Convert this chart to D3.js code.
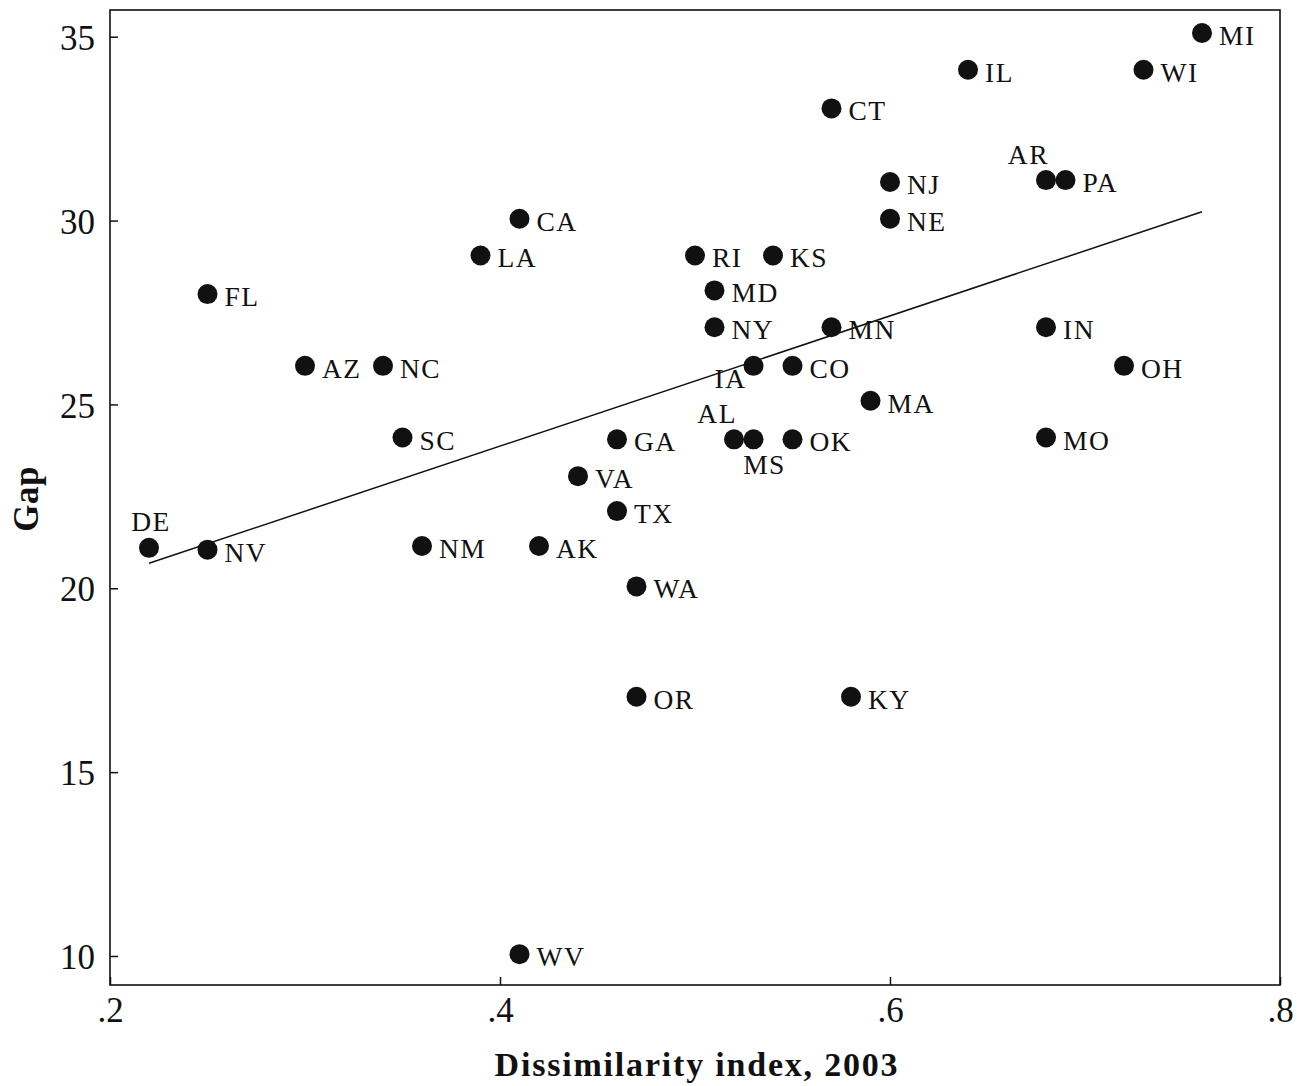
<!DOCTYPE html>
<html>
<head>
<meta charset="utf-8">
<script src="https://cdn.jsdelivr.net/npm/d3@7"></script>
<style>
  html, body { margin: 0; padding: 0; background: #fff; }
  svg { display: block; }
  text { font-family: "Liberation Serif", "DejaVu Serif", serif; fill: #111; }
</style>
</head>
<body>
<svg id="chart" width="1306" height="1086"></svg>
<script>
// ---- data ----
const states = ["MI","WI","IL","CT","NJ","NE","AR","PA","IN","OH","MO","RI","KS","MD","NY","MN","IA","CO","MA","GA","AL","MS","OK","VA","TX","NM","AK","WA","OR","FL","AZ","NC","SC","CA","LA","DE","NV","KY","WV"];
const dissimilarity = [0.76,0.73,0.64,0.57,0.60,0.60,0.68,0.69,0.68,0.72,0.68,0.50,0.54,0.51,0.51,0.57,0.53,0.55,0.59,0.46,0.52,0.53,0.55,0.44,0.46,0.36,0.42,0.47,0.47,0.25,0.30,0.34,0.35,0.41,0.39,0.22,0.25,0.58,0.41];
const gap = [35.1,34.1,34.1,33.05,31.05,30.05,31.1,31.1,27.1,26.05,24.1,29.05,29.05,28.1,27.1,27.1,26.05,26.05,25.1,24.05,24.05,24.05,24.05,23.05,22.1,21.15,21.15,20.05,17.05,28.0,26.05,26.05,24.1,30.05,29.05,21.1,21.05,17.05,10.05];
const fitX = [0.22, 0.76];
const fitY = [20.68, 30.24];
const xTicks = [0.2, 0.4, 0.6, 0.8];
const xTickLabels = [".2", ".4", ".6", ".8"];
const yTicks = [10, 15, 20, 25, 30, 35];
const xTitle = "Dissimilarity index, 2003";
const yTitle = "Gap";
// label placement for crowded points (others sit to the right of the dot)
const labelPos = { AR: "aboveLeft", DE: "above", IA: "belowLeft", AL: "aboveLeft", MS: "below" };

// ---- layout ----
const L = 110, R = 1280, T = 10, B = 985;
const svg = d3.select("#chart");
const x = d3.scaleLinear().domain([0.2, 0.8]).range([L, R]);
const y = d3.scaleLinear().domain([10, 35]).range([956, 36.7]);

// frame
svg.append("rect").attr("x", L).attr("y", T).attr("width", R - L).attr("height", B - T)
  .attr("fill", "none").attr("stroke", "#111").attr("stroke-width", 1.6);

// y axis (ticks inward)
const yAxis = d3.axisLeft(y).tickValues(yTicks).tickSizeInner(-8).tickSizeOuter(0).tickPadding(15).tickFormat(d3.format("d"));
const gy = svg.append("g").attr("transform", `translate(${L},0)`).call(yAxis);
gy.select(".domain").remove();
gy.selectAll("line").attr("stroke", "#111").attr("stroke-width", 1.5);
gy.selectAll("text").attr("font-size", 35).attr("fill", "#111")
  .attr("font-family", "Liberation Serif, serif").attr("dy", "0.36em");

// x axis (ticks inward)
const xAxis = d3.axisBottom(x).tickValues(xTicks).tickSizeInner(-8).tickSizeOuter(0).tickPadding(18)
  .tickFormat((d, i) => xTickLabels[i]);
const gx = svg.append("g").attr("transform", `translate(0,${B})`).call(xAxis);
gx.select(".domain").remove();
gx.selectAll("line").attr("stroke", "#111").attr("stroke-width", 1.5);
gx.selectAll("text").attr("font-size", 35).attr("fill", "#111")
  .attr("font-family", "Liberation Serif, serif").attr("dy", "0.55em");

// titles
svg.append("text").attr("x", 697).attr("y", 1076).attr("text-anchor", "middle")
  .attr("font-size", 34).attr("font-weight", "bold").attr("letter-spacing", 1.8).text(xTitle);
svg.append("text").attr("transform", "translate(38,499) rotate(-90)").attr("text-anchor", "middle")
  .attr("font-size", 35).attr("font-weight", "bold").attr("letter-spacing", 0.5).text(yTitle);

// fit line
const line = d3.line().x(d => x(d[0])).y(d => y(d[1]));
svg.append("path").datum(fitX.map((v, i) => [v, fitY[i]]))
  .attr("d", line).attr("fill", "none").attr("stroke", "#111").attr("stroke-width", 1.5);

// points
const data = states.map((s, i) => ({ s, x: dissimilarity[i], y: gap[i] }));
svg.append("g").selectAll("circle").data(data).join("circle")
  .attr("cx", d => x(d.x)).attr("cy", d => y(d.y)).attr("r", 10).attr("fill", "#111");

// labels
svg.append("g").selectAll("text").data(data).join("text")
  .attr("font-size", 27.5).attr("letter-spacing", 1.5)
  .text(d => d.s)
  .each(function(d) {
    const cx = x(d.x), cy = y(d.y);
    const p = labelPos[d.s];
    const t = d3.select(this);
    if (p === "aboveLeft") t.attr("x", cx + 3).attr("y", cy - 16).attr("text-anchor", "end");
    else if (p === "above") t.attr("x", cx + 2).attr("y", cy - 17).attr("text-anchor", "middle");
    else if (p === "belowLeft") t.attr("x", cx - 7).attr("y", cy + 22).attr("text-anchor", "end");
    else if (p === "below") t.attr("x", cx + 11).attr("y", cy + 35).attr("text-anchor", "middle");
    else t.attr("x", cx + 17).attr("y", cy + 12).attr("text-anchor", "start");
  });
</script>
</body>
</html>
